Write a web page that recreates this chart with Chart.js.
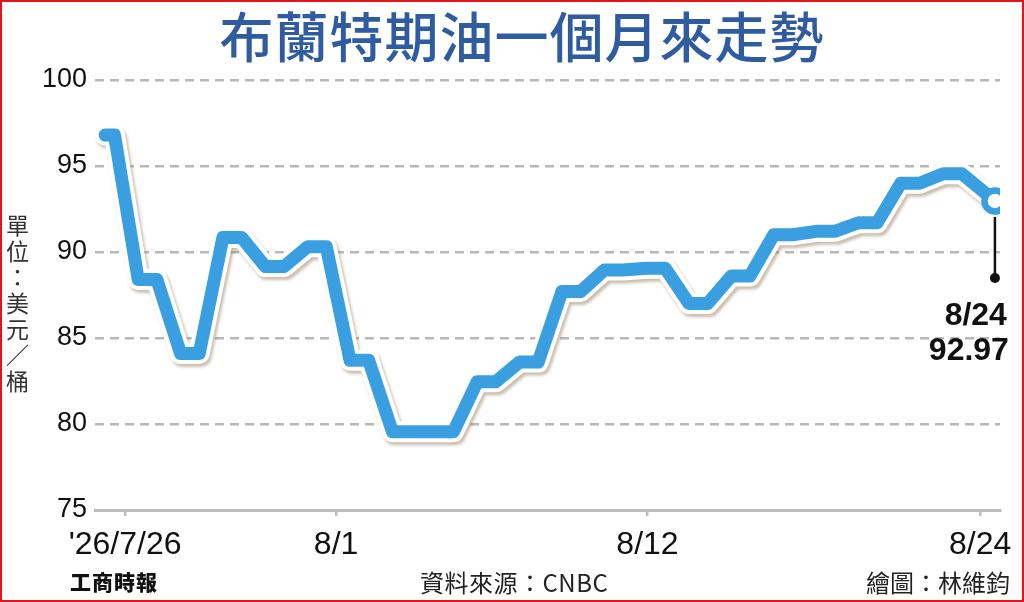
<!DOCTYPE html>
<html><head><meta charset="utf-8">
<script src="https://cdn.jsdelivr.net/npm/chart.js@4"></script>
<style>
html,body{margin:0;padding:0;background:#fff;}
#wrap{position:relative;width:1024px;height:602px;overflow:hidden;background:#fff;}
#c{position:absolute;left:0;top:0;}
#frame{position:absolute;left:0;top:0;width:1024px;height:602px;box-sizing:border-box;border:2px solid #e5141c;pointer-events:none;}
.t{position:absolute;white-space:nowrap;}
#title{left:10px;top:0px;width:1024px;text-align:center;font-family:"Noto Sans CJK TC";font-weight:500;font-size:54px;letter-spacing:1px;line-height:70px;color:#2f5ca0;}
#unit{left:5px;top:211px;width:25px;text-align:center;font-family:"Noto Sans CJK TC";font-size:23px;line-height:26px;color:#333;}
#unit div{height:26px;}
#pub{left:70px;top:566px;font-family:"Noto Sans CJK TC";font-weight:900;font-size:21px;color:#111;letter-spacing:1px;}
#src{left:420px;top:564px;font-family:"Noto Sans CJK TC";font-size:24px;letter-spacing:0.5px;color:#222;}
#credit{right:14px;top:564px;font-family:"Noto Sans CJK TC";font-size:24px;color:#222;}
</style></head>
<body>
<div id="wrap">
<canvas id="c" width="1024" height="602"></canvas>
<div class="t" id="title"></div>
<div class="t" id="unit"></div>
<div class="t" id="pub"></div>
<div class="t" id="src"></div>
<div class="t" id="credit"></div>
<div id="frame"></div>
</div>
<script>
// ---- data ----
const titleText = '布蘭特期油一個月來走勢';
const unitText = '單位：美元／桶';
const publisherText = '工商時報';
const sourceText = '資料來源：CNBC';
const creditText = '繪圖：林維鈞';

const dates = ['7/26','7/27','7/28','7/29','7/30','7/31','8/3','8/4','8/5','8/6','8/7',
               '8/10','8/11','8/12','8/13','8/14','8/17','8/18','8/19','8/20','8/21','8/24'];
const prices = [96.8, 88.4, 84.1, 90.85, 89.15, 90.3, 83.7, 79.55, 79.55, 82.45, 83.6,
                87.7, 88.95, 89.05, 87.0, 88.6, 91.0, 91.2, 91.7, 94.0, 94.55, 92.97];
const xTickLabels = ["'26/7/26", '8/1', '8/12', '8/24'];
const xTickIndex = [0.47, 5.45, 12.8, 20.65];
const yTickValues = [75, 80, 85, 90, 95, 100];

document.getElementById('title').textContent = titleText;
const unitEl = document.getElementById('unit');
Array.from(unitText).forEach(ch => { const d = document.createElement('div'); d.textContent = ch; unitEl.appendChild(d); });
document.getElementById('pub').textContent = publisherText;
document.getElementById('src').textContent = sourceText;
document.getElementById('credit').textContent = creditText;

// each trading day drawn as a short flat step
const HALF = 0.22;
const stepPts = [];
prices.forEach((v, i) => {
  if (i === 0) { stepPts.push({x: i, y: v}, {x: i + HALF, y: v}); }
  else if (i === prices.length - 1) { stepPts.push({x: i, y: v}); }
  else { stepPts.push({x: i - HALF, y: v}, {x: i + HALF, y: v}); }
});
const lastIdx = prices.length - 1;

const BLUE = '#3a9fe1';
const LBL = '"Liberation Sans", Arial, sans-serif';

const shadowPlugin = {
  id: 'shadow',
  beforeDatasetDraw(chart, args) {
    if (chart.data.datasets[args.index].label === 'outline') {
      const ctx = chart.ctx; ctx.save();
      ctx.shadowColor = 'rgba(140,110,80,0.45)';
      ctx.shadowOffsetX = 2; ctx.shadowOffsetY = 3; ctx.shadowBlur = 3;
    }
  },
  afterDatasetDraw(chart, args) {
    if (chart.data.datasets[args.index].label === 'outline') chart.ctx.restore();
  }
};

const annotPlugin = {
  id: 'annot',
  afterDatasetsDraw(chart) {
    const pt = chart.getDatasetMeta(0).data[0];
    const ctx = chart.ctx;
    ctx.save();
    ctx.strokeStyle = '#111'; ctx.lineWidth = 2.5;
    ctx.beginPath(); ctx.moveTo(pt.x, pt.y + 16); ctx.lineTo(pt.x, pt.y + 77); ctx.stroke();
    ctx.fillStyle = '#111';
    ctx.beginPath(); ctx.arc(pt.x, pt.y + 77, 5, 0, Math.PI * 2); ctx.fill();
    ctx.textAlign = 'right'; ctx.textBaseline = 'alphabetic';
    ctx.font = 'bold 32px "Liberation Sans", Arial, sans-serif';
    ctx.fillText(dates[lastIdx], pt.x + 12, pt.y + 124);
    ctx.fillText(prices[lastIdx].toFixed(2), pt.x + 14, pt.y + 159);
    ctx.restore();
  }
};

new Chart(document.getElementById('c'), {
  type: 'line',
  data: {
    datasets: [
      { label: 'last', data: [{x: lastIdx, y: prices[lastIdx]}], showLine: false,
        pointRadius: 10.5, pointBorderWidth: 6.5, pointBorderColor: BLUE, pointBackgroundColor: '#fff', order: 0 },
      { label: 'price', data: stepPts, borderColor: BLUE, borderWidth: 13, pointRadius: 0,
        borderJoinStyle: 'round', borderCapStyle: 'round', tension: 0, order: 1 },
      { label: 'outline', data: stepPts, borderColor: '#ffffff', borderWidth: 21, pointRadius: 0,
        borderJoinStyle: 'round', borderCapStyle: 'round', tension: 0, order: 2 }
    ]
  },
  options: {
    responsive: false, animation: false, devicePixelRatio: 1,
    layout: { padding: { top: 80, right: 24, left: 0, bottom: 0 } },
    plugins: { legend: { display: false }, tooltip: { enabled: false }, title: { display: false } },
    scales: {
      x: {
        type: 'linear', min: -0.24, max: 21.12,
        afterBuildTicks: s => { s.ticks = xTickIndex.map(v => ({ value: v })); },
        afterFit: s => { s.height = 92; },
        ticks: { autoSkip: false, maxRotation: 0, padding: 10, color: '#111',
                 font: { family: LBL, size: 32 },
                 callback: (v, i) => xTickLabels[i] },
        grid: { drawOnChartArea: false, drawTicks: true, tickLength: 6, color: '#bdbdbd', lineWidth: 2.5 },
        border: { display: true, color: '#bdbdbd', width: 3 }
      },
      y: {
        min: 75, max: 100,
        afterBuildTicks: s => { s.ticks = yTickValues.map(v => ({ value: v })); },
        afterFit: s => { s.width = 95; },
        ticks: { padding: 8, color: '#111', font: { family: LBL, size: 27 } },
        grid: { drawTicks: false, lineWidth: 2.5,
                color: c => (c.tick && c.tick.value === 75) ? 'rgba(0,0,0,0)' : '#b8b8b8' },
        border: { display: false, dash: [9, 6] }
      }
    }
  },
  plugins: [shadowPlugin, annotPlugin]
});
</script>
</body></html>
